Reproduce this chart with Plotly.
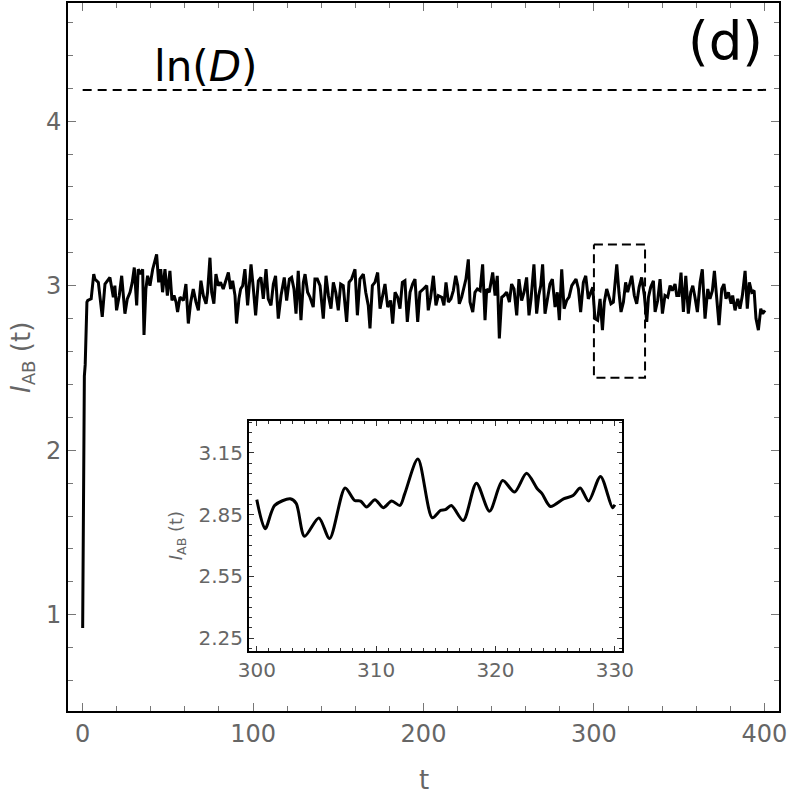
import plotly.graph_objects as go

# ---- data ----
t_main = [0, 1, 1.5, 2.5, 3, 5, 6.5,
          7.2, 9.2, 11.5, 13.1, 15.0, 16.0, 18.0, 18.9, 19.9, 21.5, 22.9, 24.8, 26.2, 27.8, 29.1, 30.3,
          31.7, 32.6, 34.0, 35.2, 36.0, 37.1, 38.1, 39.5, 41.1, 42.0, 43.4, 44.6, 45.8, 46.9, 48.3,
          49.7, 51.2, 52.4, 53.6, 54.8, 55.7, 57.1, 59.1, 60.6, 62.0, 63.4, 64.9, 66.5, 67.9, 69.4,
          70.8, 72.4, 73.3, 74.7, 75.7, 77.0, 78.2, 79.6, 80.9, 82.5, 84.1, 85.5, 86.8, 88.0, 89.4,
          90.3, 91.7, 92.7, 93.9, 95.2,
          96.8, 98.8, 100.1, 101.5, 103.1, 104.6, 106.0, 107.6, 108.9, 110.5, 111.9, 113.2, 114.8,
          116.4, 118.3, 119.7, 121.3, 122.6, 124.0, 125.2, 126.5, 128.1, 129.5, 130.5, 132.0, 133.4,
          135.3, 136.3, 137.7, 139.3, 141.2, 142.8, 144.2, 145.7, 147.1, 148.5, 150.0, 151.4, 152.9,
          154.9, 156.3, 157.8, 159.8, 161.2, 162.7, 164.7, 166.1, 167.6, 168.6, 170.0, 171.5, 173.1,
          174.5, 175.8, 177.4, 179.0, 180.7, 181.9, 183.3, 184.8, 186.2, 187.6, 189.1, 190.5, 192.1,
          193.6, 195.0, 196.6, 197.9,
          199.9, 201.9, 202.8, 204.2, 205.8, 207.3, 208.7, 210.7, 212.0, 213.2, 214.6, 216.1, 217.5,
          218.9, 220.1, 221.0, 222.4, 223.8, 224.9, 226.3, 227.3, 228.9, 230.2, 231.6, 233.2, 234.7,
          236.1, 237.1, 238.6, 240.6, 242.0, 243.3, 244.5, 245.9, 247.2, 248.8, 250.4, 251.7, 253.1,
          254.7, 256.0, 257.6, 259.0, 260.5, 261.9, 263.1, 264.8, 266.4, 267.6, 268.8, 269.9, 271.3,
          272.7, 274.2, 275.6, 277.2, 278.5, 279.7, 281.1, 282.5, 284.0, 285.4, 287.0, 288.3, 289.5,
          290.9, 292.2, 293.8, 295.2, 296.7, 298.1, 299.3, 300.6,
          302.2, 303.6, 305.0, 306.1, 307.5, 308.9, 310.0, 311.4, 312.4, 313.4, 314.7, 315.9, 317.3,
          318.6, 319.8, 320.8, 322.2, 323.7, 325.1, 326.5, 328.0, 329.6, 331.0, 332.0, 333.3, 334.9,
          335.9, 337.4, 338.8, 340.2, 341.7, 343.3, 344.7, 346.0, 347.6, 348.6, 349.9, 351.1, 352.5,
          353.9, 355.4, 356.8, 358.0, 359.3, 360.7, 362.3, 363.6, 365.2, 366.8, 368.1, 369.5, 370.7,
          372.0, 373.4, 375.0, 376.3, 377.5, 378.9, 380.5, 381.4, 382.8, 384.4, 385.7, 387.1, 388.7,
          390.0, 391.2, 392.6, 394.0, 395.1, 396.5, 397.9, 399.0, 400.4]
v_main = [0.92, 2.45, 2.52, 2.90, 2.91, 2.92, 3.07,
          3.04, 3.02, 2.81, 3.01, 3.04, 3.05, 2.93, 3.00, 2.85, 2.94, 3.06, 2.83, 2.92, 2.96, 3.02, 3.11,
          2.88, 3.10, 3.07, 3.10, 2.70, 2.98, 3.06, 3.00, 3.10, 3.14, 3.19, 3.02, 3.10, 2.96, 3.10,
          2.94, 3.09, 2.91, 2.94, 2.90, 2.84, 2.93, 2.91, 3.01, 2.77, 2.90, 2.98, 2.90, 2.85, 3.03,
          2.94, 2.89, 2.96, 3.17, 2.96, 2.89, 3.07, 3.00, 3.02, 2.98, 3.04, 3.08, 2.98, 3.03, 2.94,
          2.77, 2.92, 2.98, 3.00, 3.10,
          2.88, 3.13, 2.99, 2.82, 3.03, 3.05, 2.92, 3.10, 2.92, 2.88, 3.01, 3.06, 2.80,
          2.94, 3.05, 2.91, 3.04, 3.05, 2.98, 2.83, 3.09, 2.79, 3.02, 3.07, 2.96, 2.93,
          2.87, 3.04, 3.04, 3.00, 2.80, 3.06, 2.94, 2.86, 3.02, 2.96, 2.85, 3.01, 3.00,
          2.78, 3.02, 3.04, 3.10, 2.82, 3.04, 3.07, 2.96, 2.88, 2.74, 3.00, 3.02, 3.08,
          2.86, 2.92, 3.01, 2.87, 2.91, 2.77, 2.96, 2.93, 2.86, 3.02, 3.03, 2.78, 2.96,
          3.01, 3.04, 2.78, 2.96,
          2.98, 3.00, 2.85, 2.93, 3.06, 2.88, 2.94, 2.93, 2.88, 3.02, 2.90, 2.92, 2.97,
          3.06, 3.00, 2.89, 2.93, 3.00, 3.04, 3.16, 2.90, 2.84, 2.96, 2.98, 2.97, 3.13,
          2.79, 2.98, 2.96, 3.08, 2.94, 3.06, 2.68, 2.93, 2.94, 2.96, 2.90, 3.01, 2.98,
          2.82, 3.04, 2.91, 2.96, 3.05, 2.82, 2.92, 3.13, 2.83, 2.94, 3.00, 3.13, 2.83,
          2.92, 3.01, 3.04, 2.87, 2.96, 2.79, 3.10, 2.86, 2.91, 2.93, 3.00, 3.02, 3.04,
          2.98, 2.84, 3.02, 3.06, 2.92, 2.96, 2.99, 2.80,
          2.79, 2.92, 2.73, 2.90, 2.98, 2.93, 2.89, 2.90, 3.00, 3.13, 2.96, 2.84, 2.90,
          3.02, 2.96, 3.00, 3.06, 2.94, 2.89, 2.99, 3.05, 2.94, 2.78, 2.93, 2.99, 3.03,
          2.84, 2.91, 3.04, 2.83, 2.94, 2.93, 3.00, 2.97, 3.01, 2.94, 2.94, 3.08, 2.84,
          3.06, 2.83, 2.96, 3.00, 2.93, 2.84, 3.02, 3.10, 2.80, 2.98, 2.92, 2.97, 3.09,
          2.94, 2.76, 2.98, 3.01, 2.92, 2.96, 2.89, 2.94, 2.85, 2.92, 2.86, 2.94, 3.09,
          2.86, 3.02, 2.96, 2.97, 2.80, 2.73, 2.86, 2.83, 2.85]

t_inset = [300, 300.7, 301.5, 302.8, 303.3, 304, 305.2, 306.1, 307.4, 308.2, 308.7, 309.2, 309.9,
           310.6, 311.3, 312, 312.4, 313.5, 314.7, 315.4, 315.8, 316.3, 317.3, 318.4, 319.5, 320.6,
           321.6, 322.6, 323.5, 323.9, 324.6, 325.7, 326.5, 327.1, 327.8, 328.8, 329.8, 330]
v_inset = [2.923, 2.782, 2.895, 2.927, 2.905, 2.745, 2.834, 2.734, 2.98, 2.919, 2.916, 2.887, 2.923,
           2.884, 2.916, 2.895, 2.952, 3.12, 2.835, 2.871, 2.874, 2.895, 2.822, 3.003, 2.867, 3.016,
           2.96, 3.051, 2.976, 2.952, 2.89, 2.927, 2.943, 2.98, 2.916, 3.036, 2.884, 2.898]

ln_D = 4.19
ln_D_span = [0, 401]
zoom_t = [300, 330]
zoom_v = [2.44, 3.25]

main_xticks = [0, 100, 200, 300, 400]
main_yticks = [1, 2, 3, 4]
inset_xticks = [300, 310, 320, 330]
inset_yticks = [2.25, 2.55, 2.85, 3.15]

GRAY = "#666666"
FONT = "DejaVu Sans"

fig = go.Figure()

fig.add_trace(go.Scatter(x=t_main, y=v_main, mode="lines",
                         line=dict(color="black", width=3), xaxis="x", yaxis="y",
                         showlegend=False, hoverinfo="skip"))
fig.add_trace(go.Scatter(x=ln_D_span, y=[ln_D, ln_D], mode="lines",
                         line=dict(color="black", width=2, dash="9px,6px"),
                         xaxis="x", yaxis="y", showlegend=False, hoverinfo="skip"))
rx = [zoom_t[0], zoom_t[1], zoom_t[1], zoom_t[0], zoom_t[0]]
ry = [zoom_v[1], zoom_v[1], zoom_v[0], zoom_v[0], zoom_v[1]]
fig.add_trace(go.Scatter(x=rx, y=ry, mode="lines",
                         line=dict(color="black", width=2, dash="9px,5px"),
                         xaxis="x", yaxis="y", showlegend=False, hoverinfo="skip"))
fig.add_trace(go.Scatter(x=t_inset, y=v_inset, mode="lines",
                         line=dict(color="black", width=3, shape="spline", smoothing=0.8),
                         xaxis="x2", yaxis="y2", showlegend=False, hoverinfo="skip"))

axis_common = dict(showgrid=False, zeroline=False, showline=True, linecolor="black",
                   mirror="allticks", ticks="inside", tickcolor="#777777",
                   tickfont=dict(family=FONT, size=24, color=GRAY))

fig.update_layout(
    width=792, height=800,
    margin=dict(l=68, r=13, t=1, b=89),
    paper_bgcolor="white", plot_bgcolor="white",
    xaxis=dict(range=[-8.6, 408.6], tickvals=main_xticks, ticklen=8, tickwidth=1, linewidth=2,
               minor=dict(dtick=20, tick0=0, ticks="inside", ticklen=5, tickcolor="#777777"),
               domain=[0, 1], anchor="y", **axis_common),
    yaxis=dict(range=[0.415, 4.718], tickvals=main_yticks, ticklen=8, tickwidth=1, linewidth=2,
               minor=dict(dtick=0.2, tick0=0, ticks="inside", ticklen=5, tickcolor="#777777"),
               domain=[0, 1], anchor="x", **axis_common),
    xaxis2=dict(range=[299.35, 330.6], tickvals=inset_xticks, ticklen=5, tickwidth=1, linewidth=2,
                minor=dict(dtick=1, tick0=300, ticks="inside", ticklen=3, tickcolor="#333333"),
                domain=[0.2546, 0.7792], anchor="y2",
                showgrid=False, zeroline=False, showline=True, linecolor="black",
                mirror="allticks", ticks="inside", tickcolor="#333333",
                tickfont=dict(family=FONT, size=20, color=GRAY)),
    yaxis2=dict(range=[2.187, 3.306], tickvals=inset_yticks, ticklen=5, tickwidth=1, linewidth=2,
                minor=dict(dtick=0.05, tick0=2.25, ticks="inside", ticklen=3, tickcolor="#333333"),
                domain=[0.0845, 0.4099], anchor="x2",
                showgrid=False, zeroline=False, showline=True, linecolor="black",
                mirror="allticks", ticks="inside", tickcolor="#333333",
                tickfont=dict(family=FONT, size=20, color=GRAY)),
    annotations=[
        dict(text="ln(<i>D</i>)", x=40.7, y=4.19, xref="x", yref="y", xanchor="left",
             yanchor="bottom", showarrow=False, font=dict(family=FONT, size=42, color="black"),
             yshift=-3),
        dict(text="(d)", x=1, y=1, xref="paper", yref="paper", xanchor="right", yanchor="top",
             showarrow=False, font=dict(family=FONT, size=53, color="black"),
             xshift=-14, yshift=-6),
        dict(text="t", x=0.5, y=-0.097, xref="paper", yref="paper", xanchor="center",
             yanchor="middle", showarrow=False, font=dict(family=FONT, size=26, color=GRAY)),
        dict(text="<i>I</i><sub>AB</sub> (t)", x=-0.0647, y=0.5, xref="paper", yref="paper",
             xanchor="center", yanchor="middle", textangle=-90, showarrow=False,
             font=dict(family=FONT, size=26, color=GRAY)),
        dict(text="<i>I</i><sub>AB</sub> (t)", x=0.1535, y=0.247, xref="paper", yref="paper",
             xanchor="center", yanchor="middle", textangle=-90, showarrow=False,
             font=dict(family=FONT, size=18, color=GRAY)),
    ],
)

fig.write_html("out.html")
